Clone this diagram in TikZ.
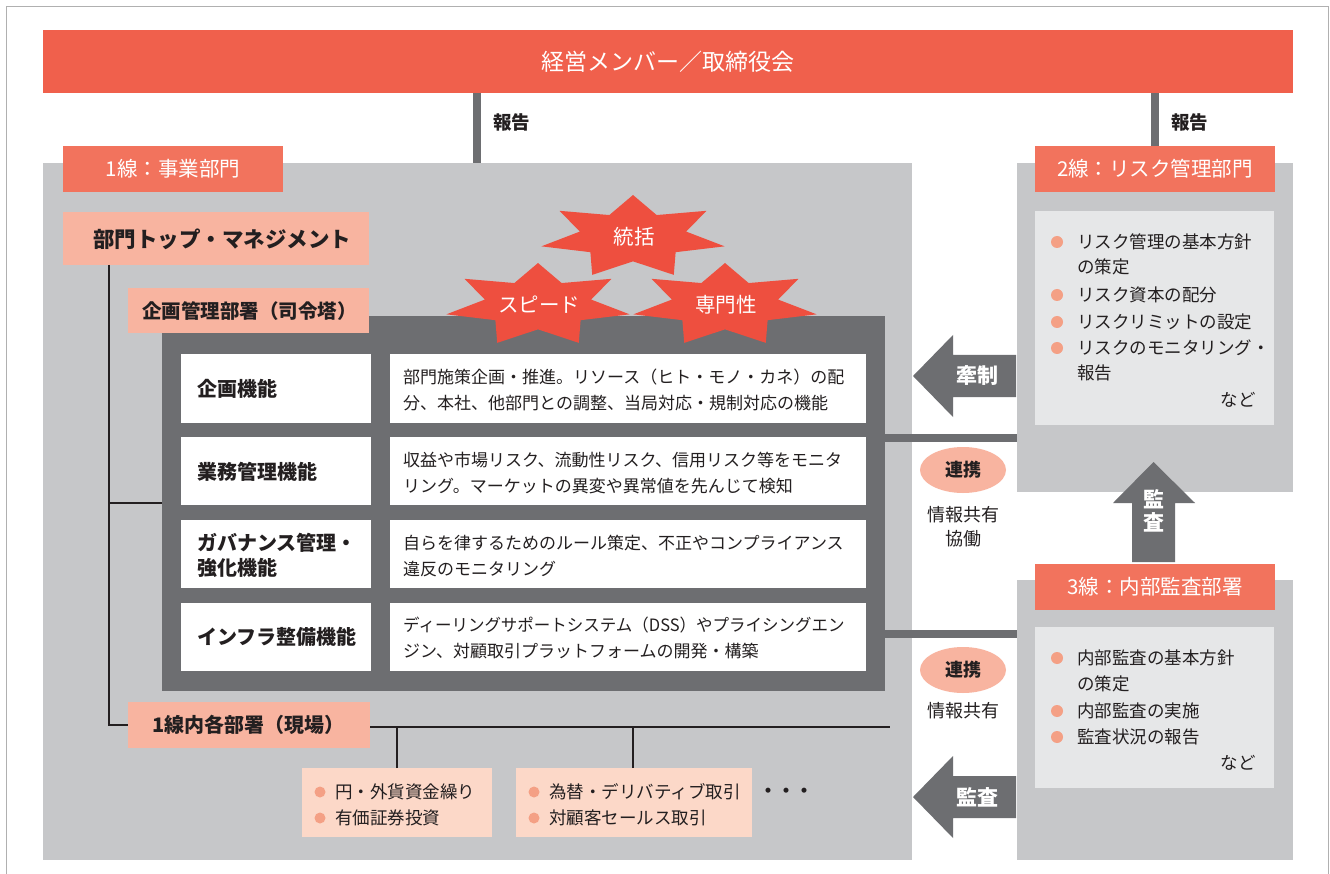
\documentclass[tikz,border=0pt]{standalone}
\usepackage{fontspec}
\setmainfont{Noto Sans CJK JP}
\usetikzlibrary{shapes.geometric}
\definecolor{titlered}{HTML}{F0604C}
\definecolor{hdrred}{HTML}{F2735D}
\definecolor{starred}{HTML}{EE4F3F}
\definecolor{pinkbox}{HTML}{F8B4A0}
\definecolor{lightpink}{HTML}{FCD8C8}
\definecolor{bulletc}{HTML}{F4A085}
\definecolor{bggray}{HTML}{C6C7C9}
\definecolor{darkg}{HTML}{6D6E71}
\definecolor{lightbox}{HTML}{E6E7E8}
\definecolor{txt}{HTML}{231F20}
\definecolor{framegray}{HTML}{B0B0B0}
\newcommand\fsz[2]{\fontsize{#1}{#2}\selectfont}
\newcommand\boxnode[6]{\node[#1, anchor=north west, minimum width={#5-#3}, minimum height={#6-#4}, inner sep=0pt, outer sep=0pt] (#2) at (#3,#4) {};}
\newcommand\starpath{(90:1) -- (115.714:0.58) -- (141.429:1) -- (167.143:0.58) -- (192.857:1) -- (218.571:0.58) -- (244.286:1) -- (270:0.58) -- (295.714:1) -- (321.429:0.58) -- (347.143:1) -- (12.857:0.58) -- (38.571:1) -- (64.286:0.58) -- cycle}
\begin{document}
\begin{tikzpicture}[x=1pt,y=-1pt,
  hdrtext/.style={text=white, font=\fsz{20.5}{24}, inner sep=0pt},
  boldtxt/.style={text=txt, font=\fsz{#1}{#1}\bfseries, inner sep=0pt},
  bodytxt/.style={text=txt, font=\fsz{17}{25.5}, inner sep=0pt, align=left},
  listtxt/.style={text=txt, font=\fsz{17.5}{25.5}, inner sep=0pt, align=left},
  conn/.style={draw=txt, line width=2},
  rep/.style={draw=darkg, line width=8},
  darkline/.style={draw=darkg, line width=8},
  arrowshape/.style={fill=darkg},
  bul/.style={fill=bulletc},
  startxt/.style={text=white, font=\fsz{20.5}{24}, inner sep=0pt}
]
\useasboundingbox (0,0) rectangle (1330,874);
\fill[white] (0,0) rectangle (1330,874);
\draw[framegray, line width=1] (6.5,874) -- (6.5,6.5) -- (1328,6.5) -- (1328,874);

% title
\boxnode{fill=titlered}{title}{43}{30}{1293}{93}
\node[text=white, font=\fsz{23}{28}, inner sep=0pt] at (title.center) {経営メンバー／取締役会};

% gray areas
\boxnode{fill=bggray}{line1}{43}{163}{912}{860}
\boxnode{fill=bggray}{line2}{1017}{163}{1293}{492}
\boxnode{fill=bggray}{line3}{1017}{580}{1293}{860}

% report connectors
\coordinate (rx1) at (477,0);
\coordinate (rx2) at (1155,0);
\draw[rep] (title.south -| rx1) -- (line1.north -| rx1);
\node[boldtxt=18.5, anchor=west] (rep1) at (493,122) {報告};

% headers
\boxnode{fill=hdrred}{h1}{63}{146}{283}{192}
\node[hdrtext] at (h1.center) {1線：事業部門};
\boxnode{fill=hdrred}{h2}{1035}{146}{1275}{192}
\node[hdrtext] at (h2.center) {2線：リスク管理部門};
\boxnode{fill=hdrred}{h3}{1035}{564}{1275}{610}
\node[hdrtext] at (h3.center) {3線：内部監査部署};
\draw[rep] (title.south -| rx2) -- (h2.north -| rx2);
\node[boldtxt=18.5, anchor=west] (rep2) at (1171,122) {報告};

% top management
\boxnode{fill=pinkbox}{top}{63}{212}{369}{265}
\node[boldtxt=21.5, anchor=west] at (93,239) {部門トップ・マネジメント};

% dark box
\boxnode{fill=darkg}{dark}{162}{316}{885}{691}

% stars
\begin{scope}[shift={(633,237)}, xscale=94, yscale=-42]
  \fill[starred] \starpath;
\end{scope}
\begin{scope}[shift={(538,305)}, xscale=94, yscale=-42]
  \fill[starred] \starpath;
\end{scope}
\begin{scope}[shift={(725,305)}, xscale=94, yscale=-42]
  \fill[starred] \starpath;
\end{scope}
\node[startxt] (s1) at (634,237) {統括};
\node[startxt] (s2) at (539,305) {スピード};
\node[startxt] (s3) at (726,305) {専門性};

% kikaku box
\boxnode{fill=pinkbox}{kikaku}{128}{288}{369}{333}
\node[boldtxt=19.5, anchor=west] at (142,311) {企画管理部署（司令塔）};

% rows
\boxnode{fill=white}{l1}{181}{354}{371}{423}
\boxnode{fill=white}{r1}{390}{354}{866}{423}
\boxnode{fill=white}{l2}{181}{437}{371}{505}
\boxnode{fill=white}{r2}{390}{437}{866}{505}
\boxnode{fill=white}{l3}{181}{520}{371}{588}
\boxnode{fill=white}{r3}{390}{520}{866}{588}
\boxnode{fill=white}{l4}{181}{603}{371}{671}
\boxnode{fill=white}{r4}{390}{603}{866}{671}

\node[boldtxt=20, anchor=west] at (197,389) {企画機能};
\node[boldtxt=20, anchor=west] at (197,472) {業務管理機能};
\node[boldtxt=20, anchor=west, align=left, font=\fsz{20}{25}\bfseries] at (197,555) {ガバナンス管理・\\強化機能};
\node[boldtxt=20, anchor=west] at (197,637) {インフラ整備機能};

\node[bodytxt, anchor=west] at (403,390) {部門施策企画・推進。リソース（ヒト・モノ・カネ）の配\\分、本社、他部門との調整、当局対応・規制対応の機能};
\node[bodytxt, anchor=west] at (403,473) {収益や市場リスク、流動性リスク、信用リスク等をモニタ\\リング。マーケットの異変や異常値を先んじて検知};
\node[bodytxt, anchor=west] at (403,556) {自らを律するためのルール策定、不正やコンプライアンス\\違反のモニタリング};
\node[bodytxt, anchor=west] at (403,638) {\scalebox{0.97}[1]{ディーリングサポートシステム（DSS）やプライシングエン}\\ジン、対顧取引プラットフォームの開発・構築};

% left tree connector
\boxnode{fill=pinkbox}{genba}{128}{702}{370}{748}
\node[boldtxt=20, anchor=west] at (152,725) {1線内各部署（現場）};
\coordinate (tx) at (109,0);
\coordinate (endline) at (890,727);
\draw[conn] (top.south -| tx) -- (tx |- genba.west) -- (genba.west);
\draw[conn] (tx |- 0,503) -- (dark.west |- 0,503);
\draw[conn] (genba.east |- endline) -- (endline);

\boxnode{fill=lightpink}{b1}{302}{768}{492}{837}
\boxnode{fill=lightpink}{b2}{516}{768}{752}{837}
\draw[conn] (b1.north -| 397,0) -- (397,727);
\draw[conn] (b2.north -| 633,0) -- (633,727);
\fill[bul] (320,792) circle (5.5);
\fill[bul] (320,818) circle (5.5);
\fill[bul] (534,792) circle (5.5);
\fill[bul] (534,818) circle (5.5);
\node[listtxt, anchor=west] at (335,792) {円・外貨資金繰り};
\node[listtxt, anchor=west] at (335,818) {有価証券投資};
\node[listtxt, anchor=west] at (549,792) {為替・デリバティブ取引};
\node[listtxt, anchor=west] at (549,818) {対顧客セールス取引};
\node[text=txt, font=\fsz{18}{20}\bfseries, inner sep=0pt] (dots) at (786,793) {・・・};

% 2nd line content
\boxnode{fill=lightbox}{in2}{1035}{211}{1274}{425}
\fill[bul] (1057,242) circle (6);
\fill[bul] (1057,295) circle (6);
\fill[bul] (1057,322) circle (6);
\fill[bul] (1057,348) circle (6);
\node[listtxt, anchor=west] at (1077,254.5) {リスク管理の基本方針\\の策定};
\node[listtxt, anchor=west] at (1077,295) {リスク資本の配分};
\node[listtxt, anchor=west] at (1077,322) {リスクリミットの設定};
\node[listtxt, anchor=west] at (1077,360.5) {リスクのモニタリング・\\報告};
\node[listtxt, anchor=east] at (1256,400) {など};

% 3rd line content
\boxnode{fill=lightbox}{in3}{1035}{627}{1274}{788}
\fill[bul] (1057,658) circle (6);
\fill[bul] (1057,711) circle (6);
\fill[bul] (1057,737) circle (6);
\node[listtxt, anchor=west] at (1077,671) {内部監査の基本方針\\の策定};
\node[listtxt, anchor=west] at (1077,711) {内部監査の実施};
\node[listtxt, anchor=west] at (1077,737) {監査状況の報告};
\node[listtxt, anchor=east] at (1256,763) {など};

% dark connecting lines
\draw[darkline] (dark.east |- 0,437.5) -- (line2.west |- 0,437.5);
\draw[darkline] (dark.east |- 0,634) -- (line3.west |- 0,634);

% ellipses
\node[ellipse, fill=pinkbox, minimum width=86, minimum height=46, inner sep=0pt, text=txt, font=\fsz{18}{20}\bfseries] (e1) at (963,470) {連携};
\node[text=txt, font=\fsz{18}{24}, align=center, inner sep=0pt] (e1t) at (963,527) {情報共有\\協働};
\node[ellipse, fill=pinkbox, minimum width=86, minimum height=46, inner sep=0pt, text=txt, font=\fsz{18}{20}\bfseries] (e2) at (963,670) {連携};
\node[text=txt, font=\fsz{18}{24}, inner sep=0pt] (e2t) at (963,711) {情報共有};

% arrows
\fill[arrowshape] (1016,355) -- (953,355) -- (953,335) -- (913,376) -- (953,417) -- (953,397) -- (1016,397) -- cycle;
\node[text=white, font=\fsz{21}{24}\bfseries, inner sep=0pt] (a1) at (977,376) {牽制};
\fill[arrowshape] (1016,776) -- (953,776) -- (953,756) -- (913,797) -- (953,838) -- (953,818) -- (1016,818) -- cycle;
\node[text=white, font=\fsz{21}{24}\bfseries, inner sep=0pt] (a2) at (977,797) {監査};
\fill[arrowshape] (1132,562) -- (1132,503) -- (1113,503) -- (1153.5,462) -- (1195,503) -- (1175,503) -- (1175,562) -- cycle;
\node[text=white, font=\fsz{21}{23}\bfseries, inner sep=0pt, align=center] (a3) at (1154,511) {監\\査};
\end{tikzpicture}
\end{document}
